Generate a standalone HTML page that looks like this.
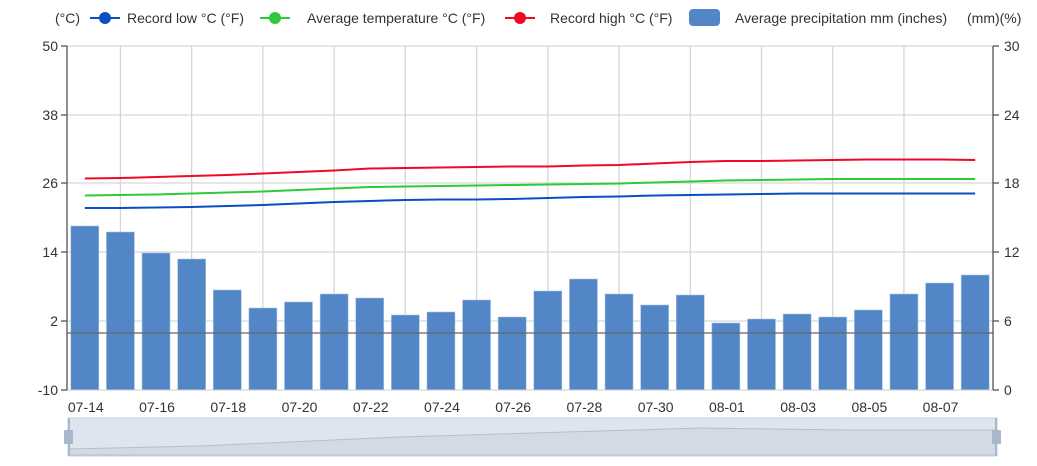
<!DOCTYPE html>
<html><head><meta charset="utf-8"><style>
body{margin:0;background:#fff;}
svg{display:block;font-family:"Liberation Sans",sans-serif;}
</style></head><body>
<svg width="1037" height="466" viewBox="0 0 1037 466" xmlns="http://www.w3.org/2000/svg">
<g id="legend" font-size="14" fill="#333">
<text x="55" y="23">(°C)</text>
<line x1="90" y1="18" x2="120" y2="18" stroke="#0a4fc2" stroke-width="2"/><circle cx="105" cy="18" r="6" fill="#0a4fc2"/>
<text x="127" y="23">Record low °C (°F)</text>
<line x1="260" y1="18" x2="290" y2="18" stroke="#2fc93a" stroke-width="2"/><circle cx="275" cy="18" r="6" fill="#2fc93a"/>
<text x="307" y="23">Average temperature °C (°F)</text>
<line x1="505" y1="18" x2="535" y2="18" stroke="#ee0a24" stroke-width="2"/><circle cx="520" cy="18" r="6" fill="#ee0a24"/>
<text x="550" y="23">Record high °C (°F)</text>
<rect x="689" y="9" width="31" height="17" rx="4" fill="#5286c6"/>
<text x="735" y="23">Average precipitation mm (inches)</text>
<text x="967" y="23">(mm)(%)</text>
</g>
<g id="grid" stroke="#d6d6d6" stroke-width="1.3">
<line x1="67" y1="46" x2="993" y2="46"/><line x1="67" y1="115" x2="993" y2="115"/><line x1="67" y1="183" x2="993" y2="183"/><line x1="67" y1="252" x2="993" y2="252"/><line x1="67" y1="321" x2="993" y2="321"/>
</g>
<g id="vgrid" stroke="#d6d6d6" stroke-width="1.3"></g>
<g id="bars" fill="#5286c6" stroke="#a9c4e6" stroke-width="0.6"></g>
<line x1="67" y1="333" x2="993" y2="333" stroke="#666" stroke-width="1.3"/>
<line x1="67" y1="390" x2="993" y2="390" stroke="#ccc" stroke-width="1"/>
<line x1="67" y1="46" x2="67" y2="390" stroke="#555" stroke-width="1.3"/>
<line x1="993" y1="46" x2="993" y2="390" stroke="#555" stroke-width="1.3"/>
<g stroke="#555" stroke-width="1.3">
<line x1="61" y1="46" x2="67" y2="46"/><line x1="61" y1="115" x2="67" y2="115"/><line x1="61" y1="183" x2="67" y2="183"/><line x1="61" y1="252" x2="67" y2="252"/><line x1="61" y1="321" x2="67" y2="321"/><line x1="61" y1="390" x2="67" y2="390"/>
<line x1="993" y1="46" x2="999" y2="46"/><line x1="993" y1="115" x2="999" y2="115"/><line x1="993" y1="183" x2="999" y2="183"/><line x1="993" y1="252" x2="999" y2="252"/><line x1="993" y1="321" x2="999" y2="321"/><line x1="993" y1="390" x2="999" y2="390"/>
</g>
<g font-size="14" fill="#333" text-anchor="end">
<text x="58" y="51">50</text><text x="58" y="120">38</text><text x="58" y="188">26</text><text x="58" y="257">14</text><text x="58" y="326">2</text><text x="58" y="395">-10</text>
</g>
<g font-size="14" fill="#333">
<text x="1004" y="51">30</text><text x="1004" y="120">24</text><text x="1004" y="188">18</text><text x="1004" y="257">12</text><text x="1004" y="326">6</text><text x="1004" y="395">0</text>
</g>
<g id="xl" font-size="14" fill="#333" text-anchor="middle"></g>
<g id="lines" fill="none" stroke-width="2"></g>
<rect x="68" y="418" width="929" height="38" fill="#dfe5ee" stroke="#c9d2df"/>
<path d="M69 449 L200 446 L400 437 L700 428 L850 430 L996 430 L996 455 L69 455Z" fill="#d3dae4" stroke="#b4bfce"/>
<rect x="64" y="430" width="9" height="14" rx="1" fill="#a9b7ca"/>
<rect x="992" y="430" width="9" height="14" rx="1" fill="#a9b7ca"/>
<line x1="69" y1="418" x2="69" y2="456" stroke="#a9b7ca" stroke-width="2"/>
<line x1="996" y1="418" x2="996" y2="456" stroke="#a9b7ca" stroke-width="2"/>
</svg>
<script>
var ns="http://www.w3.org/2000/svg",cw=926/26;
function c(i){return 67+cw*(i+0.5);}
var tops=[226,232,253,259,290,308,302,294,298,315,312,300,317,291,279,294,305,295,323,319,314,317,310,294,283,275];
var b=document.getElementById('bars');
tops.forEach(function(t,i){var r=document.createElementNS(ns,'rect');r.setAttribute('x',c(i)-14);r.setAttribute('y',t);r.setAttribute('width',28);r.setAttribute('height',390-t);b.appendChild(r);});
var vg=document.getElementById('vgrid'),xl=document.getElementById('xl');
var labs=['07-14','07-16','07-18','07-20','07-22','07-24','07-26','07-28','07-30','08-01','08-03','08-05','08-07'];
for(var k=0;k<13;k++){var x=67+cw*(2*k+1.5);if(k<12){var l=document.createElementNS(ns,'line');l.setAttribute('x1',x);l.setAttribute('x2',x);l.setAttribute('y1',46);l.setAttribute('y2',390);vg.appendChild(l);}
var t=document.createElementNS(ns,'text');t.setAttribute('x',c(2*k)+1);t.setAttribute('y',412);t.textContent=labs[k];xl.appendChild(t);}
var L={'#ee0a24':[178.5,178,177,176,175,173.5,172,170.5,168.5,168,167.5,167,166.5,166.5,165.5,165,163.5,162,161,161,160.5,160,159.5,159.5,159.5,160],
'#2fc93a':[195.5,195,194.5,193.5,192.5,191.5,190,188.5,187,186.5,186,185.5,185,184.5,184,183.5,182.5,181.5,180.5,180,179.5,179,179,179,179,179],
'#0a4fc2':[208,208,207.5,207,206,205,203.5,202,201,200,199.5,199.5,199,198,197,196.5,195.5,195,194.5,194,193.5,193.5,193.5,193.5,193.5,193.5]};
var lg=document.getElementById('lines');
for(var col in L){var p=document.createElementNS(ns,'polyline');p.setAttribute('points',L[col].map(function(y,i){return c(i)+','+y;}).join(' '));p.setAttribute('stroke',col);lg.appendChild(p);}
</script>
</body></html>
